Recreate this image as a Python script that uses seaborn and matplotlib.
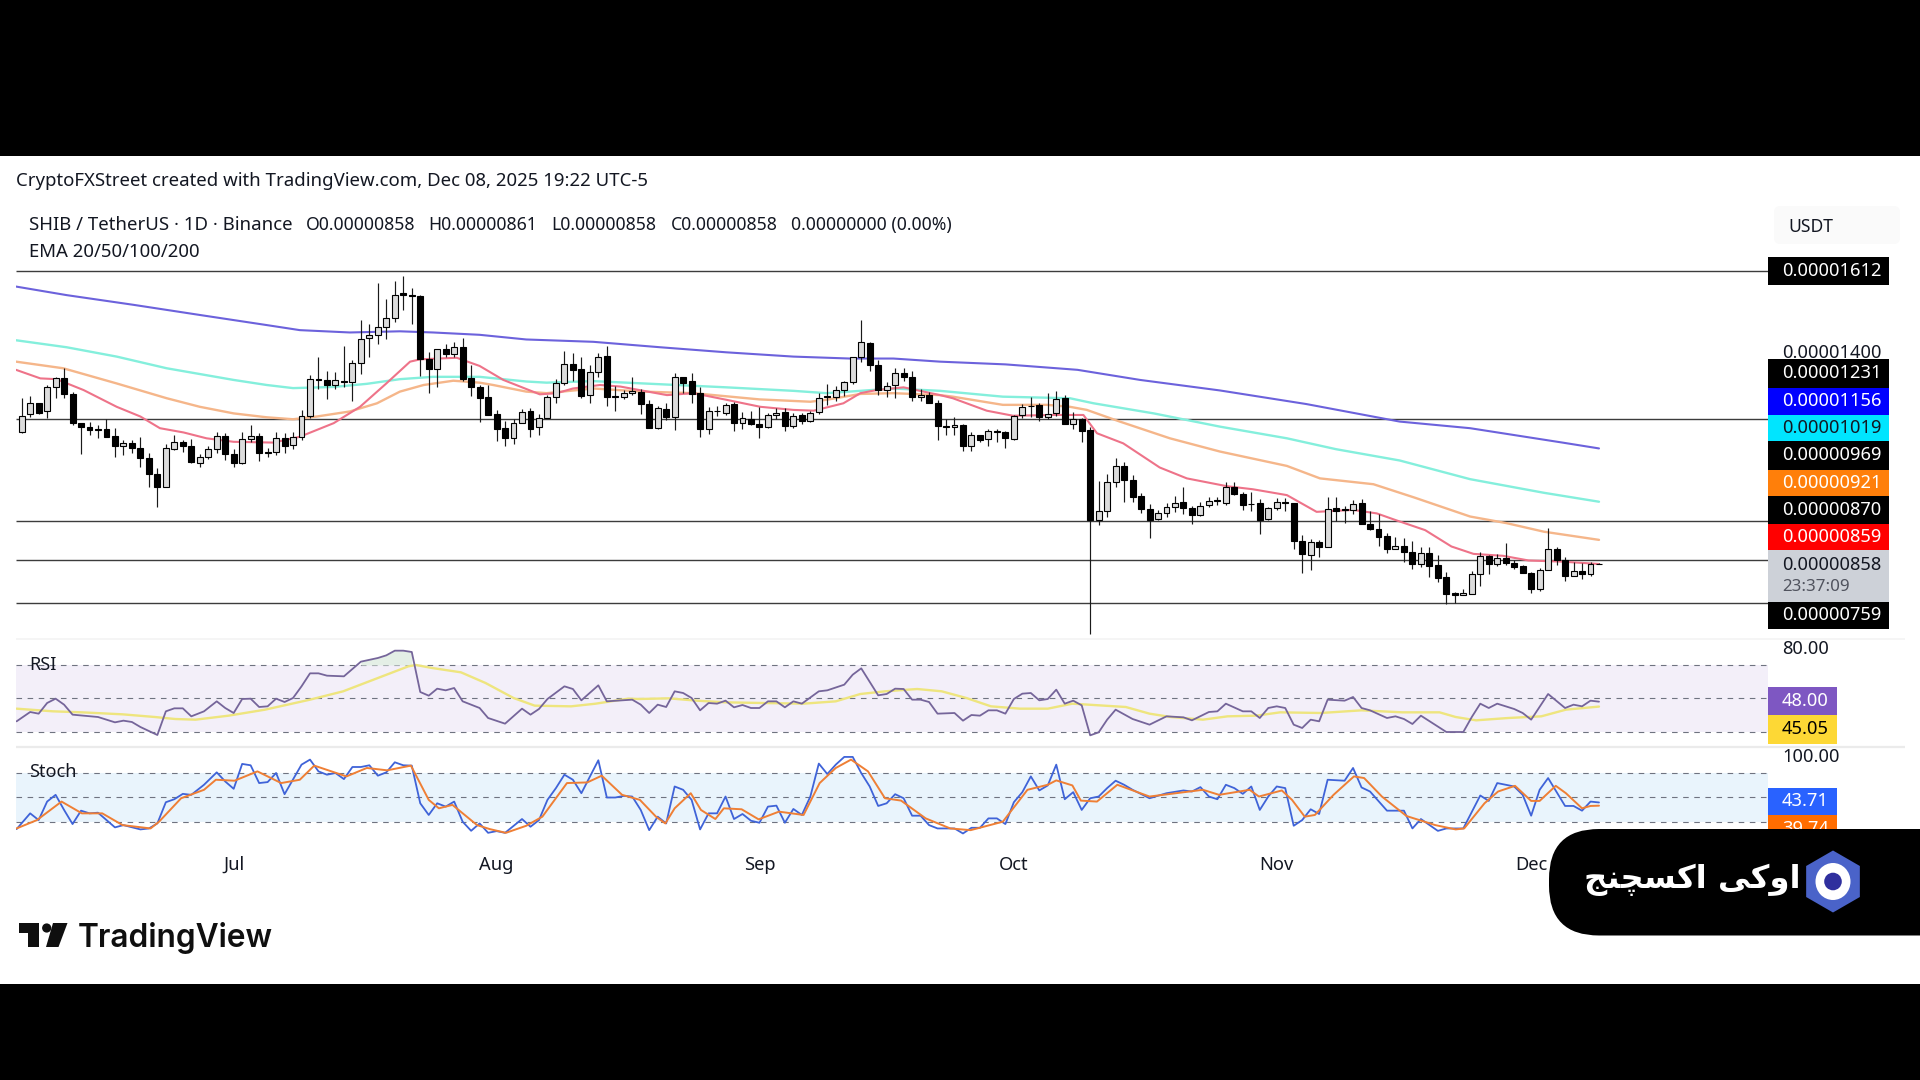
import matplotlib
matplotlib.use("Agg")
import matplotlib.pyplot as plt
import numpy as np
import seaborn as sns
from matplotlib.patches import Circle, Ellipse, FancyBboxPatch, Polygon, Rectangle, RegularPolygon

# prices are in units of 1e-8 USDT, x is the bar number counted from Jun 6
open_vals = [
    1199, 1244, 1273, 1251, 1313, 1337, 1296, 1221, 1211, 1206, 1205, 1188, 1161, 1170, 1158, 1131, 1089, 1058, 1155, 1173,
    1161, 1119, 1133, 1155, 1189, 1142, 1119, 1179, 1189, 1147, 1147, 1182, 1164, 1186, 1240, 1334, 1332, 1320, 1330, 1326,
    1375, 1439, 1447, 1469, 1490, 1555, 1551, 1548, 1387, 1361, 1411, 1398, 1417, 1336, 1313, 1288, 1244, 1208, 1182, 1221,
    1252, 1210, 1233, 1287, 1325, 1373, 1359, 1293, 1353, 1393, 1291, 1287, 1298, 1301, 1271, 1209, 1257, 1238, 1340, 1328,
    1298, 1205, 1253, 1248, 1269, 1221, 1231, 1219, 1210, 1242, 1249, 1213, 1241, 1227, 1249, 1291, 1289, 1307, 1326, 1392,
    1428, 1370, 1306, 1318, 1350, 1340, 1287, 1293, 1274, 1214, 1210, 1216, 1163, 1190, 1180, 1202, 1197, 1180, 1241, 1266,
    1268, 1238, 1246, 1285, 1218, 1232, 1203, 973, 994, 1070, 1111, 1076, 1034, 1001, 974, 989, 1006, 1018, 1004, 984,
    1010, 1023, 1017, 1056, 1040, 1014, 1015, 974, 1003, 1017, 1017, 919, 882, 915, 902, 1003, 1000, 999, 1015, 963,
    948, 931, 898, 905, 889, 858, 886, 856, 825, 784, 779, 783, 832, 880, 858, 875, 862, 854, 837, 796,
    844, 897, 868, 829, 841, 832, 858,
]
high_vals = [
    1285, 1291, 1273, 1319, 1340, 1362, 1302, 1221, 1223, 1216, 1231, 1208, 1178, 1178, 1186, 1145, 1105, 1167, 1191, 1178,
    1180, 1142, 1161, 1199, 1195, 1154, 1199, 1216, 1195, 1158, 1197, 1195, 1197, 1255, 1345, 1390, 1355, 1352, 1418, 1383,
    1486, 1475, 1580, 1539, 1585, 1599, 1568, 1550, 1405, 1411, 1424, 1430, 1439, 1370, 1319, 1319, 1255, 1227, 1231, 1257,
    1259, 1245, 1293, 1334, 1407, 1400, 1392, 1370, 1402, 1419, 1316, 1306, 1340, 1308, 1281, 1266, 1274, 1351, 1340, 1351,
    1315, 1263, 1265, 1274, 1276, 1249, 1253, 1263, 1246, 1259, 1259, 1248, 1248, 1253, 1298, 1321, 1317, 1330, 1392, 1486,
    1430, 1382, 1326, 1362, 1362, 1356, 1308, 1302, 1281, 1231, 1238, 1218, 1199, 1190, 1205, 1205, 1202, 1242, 1270, 1287,
    1274, 1299, 1304, 1293, 1249, 1235, 1212, 1073, 1089, 1131, 1122, 1088, 1041, 1013, 998, 1017, 1034, 1056, 1008, 1019,
    1032, 1032, 1071, 1071, 1045, 1045, 1025, 1006, 1028, 1028, 1017, 934, 922, 921, 1032, 1030, 1008, 1023, 1027, 996,
    988, 938, 928, 925, 919, 902, 902, 882, 838, 788, 796, 842, 891, 882, 885, 914, 868, 857, 839, 848,
    952, 902, 878, 864, 862, 863, 861,
]
low_vals = [
    1196, 1238, 1244, 1233, 1285, 1286, 1216, 1141, 1191, 1182, 1185, 1135, 1139, 1143, 1107, 1058, 1006, 1058, 1152, 1148,
    1118, 1107, 1129, 1145, 1126, 1109, 1116, 1173, 1124, 1135, 1139, 1145, 1155, 1178, 1233, 1308, 1283, 1310, 1313, 1277,
    1346, 1390, 1424, 1436, 1482, 1512, 1476, 1343, 1299, 1313, 1392, 1392, 1328, 1292, 1225, 1242, 1176, 1163, 1167, 1221,
    1186, 1190, 1233, 1272, 1319, 1328, 1285, 1272, 1340, 1265, 1253, 1282, 1293, 1245, 1209, 1206, 1229, 1203, 1298, 1272,
    1185, 1192, 1240, 1242, 1201, 1206, 1216, 1182, 1208, 1232, 1201, 1209, 1218, 1225, 1244, 1268, 1279, 1292, 1322, 1377,
    1355, 1293, 1289, 1286, 1330, 1278, 1278, 1272, 1178, 1191, 1191, 1149, 1150, 1173, 1161, 1173, 1156, 1178, 1233, 1238,
    1227, 1231, 1240, 1218, 1206, 1173, 678, 959, 981, 1056, 1019, 1019, 989, 927, 972, 981, 993, 987, 962, 982,
    1006, 1011, 1011, 1036, 998, 996, 936, 972, 998, 996, 897, 837, 844, 878, 902, 969, 964, 988, 962, 946,
    906, 888, 898, 865, 846, 850, 825, 814, 756, 758, 779, 781, 803, 832, 855, 856, 846, 835, 785, 790,
    844, 856, 815, 829, 821, 829, 858,
]
close_vals = [
    1240, 1273, 1248, 1313, 1336, 1295, 1221, 1210, 1204, 1204, 1186, 1161, 1169, 1158, 1131, 1089, 1058, 1158, 1172, 1163,
    1122, 1133, 1155, 1188, 1141, 1119, 1179, 1188, 1143, 1145, 1182, 1163, 1185, 1240, 1334, 1332, 1320, 1331, 1326, 1375,
    1436, 1447, 1469, 1490, 1551, 1550, 1549, 1385, 1361, 1411, 1398, 1417, 1335, 1314, 1286, 1242, 1207, 1182, 1221, 1250,
    1207, 1235, 1287, 1325, 1372, 1358, 1292, 1353, 1392, 1287, 1289, 1299, 1304, 1270, 1209, 1259, 1236, 1340, 1325, 1295,
    1205, 1253, 1251, 1268, 1221, 1234, 1218, 1210, 1243, 1248, 1213, 1240, 1227, 1248, 1286, 1289, 1306, 1326, 1392, 1430,
    1370, 1306, 1317, 1350, 1340, 1287, 1293, 1272, 1213, 1212, 1216, 1162, 1191, 1178, 1202, 1197, 1182, 1240, 1262, 1264,
    1236, 1245, 1284, 1218, 1232, 1202, 972, 995, 1070, 1111, 1075, 1030, 1000, 973, 990, 1006, 1017, 1003, 984, 1008,
    1022, 1021, 1056, 1038, 1011, 1012, 973, 1003, 1019, 1016, 917, 884, 915, 902, 1000, 994, 998, 1014, 962, 949,
    929, 898, 904, 891, 858, 886, 855, 824, 783, 779, 784, 832, 880, 860, 874, 862, 852, 836, 796, 844,
    897, 868, 829, 840, 832, 858, 858,
]

level_vals = [1612, 1231, 969, 870, 759]

ema200_x = [-0.67, 5.3, 13.2, 21, 28.9, 32.8, 38.7, 44.6, 48.5, 54, 59.5, 67.4, 75.3, 83.1, 91, 97.7, 102.8, 108.3, 116, 124.5, 131.9, 141.3, 151.5, 162.5, 170.8, 181.7, 186]
ema200_y = [1572, 1550, 1525, 1499, 1473, 1460, 1454, 1457, 1454, 1448, 1436, 1430, 1416, 1403, 1392, 1387, 1387, 1379, 1372, 1358, 1332, 1305, 1270, 1225, 1208, 1171, 1156]
ema100_x = [-0.67, 5.3, 11.2, 17.1, 25, 28.9, 32, 36.8, 40.7, 44.6, 48.5, 54, 59.5, 61.9, 67.4, 73.3, 83.1, 91, 94.9, 98.9, 102.8, 108.3, 115.7, 123.6, 126.4, 133.5, 141.3, 149.2, 155, 162.5, 170.8, 179.5, 186]
ema100_y = [1434, 1416, 1392, 1362, 1332, 1319, 1311, 1314, 1322, 1334, 1340, 1340, 1328, 1325, 1329, 1323, 1313, 1304, 1298, 1304, 1310, 1304, 1289, 1285, 1272, 1246, 1212, 1182, 1154, 1125, 1077, 1042, 1019]
ema50_x = [-0.67, 4.9, 11.2, 17.1, 21, 25, 28.9, 32, 34.8, 38.7, 41.9, 44.6, 47.4, 50.9, 54, 55.6, 59.5, 61.9, 67.4, 73.3, 79.2, 87, 93, 94.9, 98.9, 102.8, 108.3, 109.8, 115.7, 120.9, 123.6, 125.6, 129.5, 135.4, 141.3, 149.2, 153.1, 159.4, 164.2, 170.8, 175.1, 179.5, 186]
ema50_y = [1379, 1362, 1323, 1285, 1263, 1246, 1236, 1231, 1238, 1251, 1272, 1302, 1319, 1330, 1325, 1319, 1302, 1298, 1310, 1302, 1298, 1282, 1276, 1281, 1296, 1298, 1293, 1289, 1268, 1268, 1263, 1255, 1225, 1182, 1148, 1111, 1079, 1064, 1030, 981, 964, 942, 921]
ema20_x = [-0.67, 2.2, 4.1, 7.3, 11.2, 14, 16.3, 19.1, 21.8, 25, 29.7, 32.8, 36.8, 39.9, 43, 45.8, 47, 51.3, 54, 56.8, 61.1, 63.1, 65, 68.2, 70.6, 76.1, 79.2, 83.1, 87.1, 91, 93.4, 96.9, 98.9, 100.8, 104, 108.3, 109.8, 113.8, 116.9, 121.6, 125.2, 126.8, 129.9, 134.2, 137.4, 142.1, 145.2, 149.2, 152.7, 157, 159.8, 162, 165.5, 168.6, 171.2, 174.7, 177.7, 181.7, 186]
ema20_y = [1358, 1336, 1334, 1306, 1263, 1238, 1208, 1197, 1182, 1173, 1171, 1186, 1221, 1263, 1323, 1379, 1385, 1389, 1368, 1332, 1295, 1298, 1310, 1319, 1315, 1293, 1298, 1281, 1263, 1255, 1253, 1272, 1298, 1306, 1313, 1293, 1285, 1253, 1240, 1242, 1242, 1195, 1169, 1107, 1079, 1059, 1051, 1036, 993, 998, 989, 972, 946, 904, 885, 880, 868, 865, 859]

rsi_x = [-0.6, 1, 2, 3, 4, 5, 6, 9, 11, 12, 13, 14, 16, 17, 18, 19, 20, 21.5, 23, 24, 25, 26, 27, 28, 29, 30, 31, 32, 33, 34, 35, 36, 38, 40, 42, 43, 44, 45, 46, 47, 48, 49, 50, 51, 52, 54, 55, 57, 59, 60, 61, 62, 64, 65, 66, 68, 69, 72, 73,
         74, 75, 76, 77, 78, 79, 80, 81, 82, 83, 84, 85, 86, 87, 88, 89, 90, 91, 92, 94, 95, 97, 98, 99, 101, 102, 103, 104, 105, 106, 107, 108, 110, 111, 112, 113, 114, 115, 116, 117, 118, 119, 120, 121, 122, 123, 124, 125, 126, 127, 128, 129, 131, 133, 135, 137, 138, 140, 141, 142, 144, 145, 146, 147, 148,
         149, 150, 151, 152, 153, 154, 156, 157, 158, 159, 161, 162, 163, 164, 165, 168, 170, 171, 172, 173, 174, 176, 177, 178, 180, 182, 183, 184, 185, 186]
rsi_y = [36.2, 41.8, 40.8, 47.2, 49.8, 46.2, 40.2, 38.8, 35.6, 36.6, 35.8, 32.8, 28, 42.2, 44, 44, 39.2, 42.2, 48.2, 44.2, 41.2, 49.6, 49.8, 44.8, 45.2, 49.8, 47.8, 50.2, 57.2, 65, 65, 63.6, 63.2, 72, 74.2, 75.8, 78.6, 78.6, 77.8, 53.8, 51.6, 55.8, 54.8, 56.2, 48.2, 44.2, 38.2, 34.8, 43.8, 40.2, 43.6, 49.6, 57.2, 55.6, 48.8, 57.8, 48.2, 49.2, 46.2,
         41.2, 46.2, 44.8, 54.2, 53.2, 50.2, 42.8, 47.2, 46.8, 48.6, 44.6, 46, 44.2, 44.2, 48.2, 48.2, 44.6, 48.2, 46.8, 54.2, 54.8, 58.2, 64.2, 68, 51.8, 52.6, 55.8, 55.6, 49.2, 49.2, 47.8, 40.8, 41.2, 36.6, 40, 39.6, 42.8, 42.8, 40.8, 49.6, 52.8, 53.2, 48.8, 49.6, 55.2, 46.8, 48.6, 45.8, 27.8, 29.6, 37.2, 43.2, 37.6, 34.2, 39.2, 38.6, 36.8, 41.8, 42.2, 46.8, 42.2, 42.2, 38.2, 44.2, 45.2,
         44.2, 34.2, 32.2, 37.2, 36.2, 49.2, 48.6, 50.8, 44.2, 42.8, 38.2, 39.2, 37.6, 34.6, 39.6, 29.8, 29.8, 38.8, 46.8, 44.2, 46.8, 43.6, 41.2, 37.2, 52.6, 44.2, 46.2, 45.2, 48.6, 48]
rsi_ma_x = [-0.6, 3.7, 7.1, 11.9, 15.7, 18.1, 20.5, 24.4, 28.7, 34, 37.9, 41.7, 45.6, 46.5, 48.4, 51.8, 54.7, 58, 60.5, 64.8, 67.7, 71.5, 72.9,
            76.3, 79.6, 83, 87.3, 92.2, 96, 98.9, 101.8, 105.6, 108.5, 111.4, 114.3, 117.7, 121, 123.9, 130.2, 133, 135.5, 139.3, 142.2, 145.6, 148.4,
            153.2, 158, 162.8, 167.2, 169.1, 171.5, 175.3, 179.2, 182.1, 186]
rsi_ma_y = [43.8, 42.2, 41.6, 40.4, 38.8, 37.6, 37.2, 39.6, 43.2, 49.2, 54.2, 61.6, 69.2, 70, 68.2, 65.6, 59.2, 50.2, 45.6, 45.2, 46.8, 49.8, 49.6,
            50, 48.6, 47.6, 47.2, 46.8, 48.2, 52.6, 54.2, 55.6, 54.2, 50.2, 45.2, 43.8, 43.8, 46.8, 44.8, 40.8, 38.8, 37.2, 39.2, 39.6, 41.6,
            41.2, 42.8, 41.6, 41.6, 38.8, 36.8, 38.2, 39.2, 43.2, 45.05]

stoch_k_x = [-0.6, 1, 2, 3, 4, 5, 6, 7, 8, 9, 11, 12, 14, 15, 16, 17, 18, 19, 20, 21.5, 23, 24, 25, 26, 27, 28, 29, 30, 31, 33, 34, 35, 36, 37, 38, 39, 40, 41, 42, 43, 44, 45, 46, 47, 48, 49, 50, 51, 52, 53, 54, 55, 56, 57, 59, 60, 61, 62, 63, 64, 65, 66, 68, 69, 70, 71, 72, 73,
             74, 75, 76, 77, 78, 79, 80, 81, 82, 83, 84, 85, 86, 87, 88, 89, 90, 91, 92, 93, 94, 95, 96, 97, 98, 99, 100, 101, 102, 103, 104, 105, 106, 107, 108, 109, 110, 111, 112, 113, 114, 115, 116, 117, 118, 119, 120, 121, 122, 123, 124, 125, 126, 127, 128, 129, 130, 131, 133, 135, 137, 138, 139, 140, 141, 142, 143, 144, 145, 146, 147, 148,
             149, 150, 151, 152, 153, 154, 156, 157, 158, 159, 161, 163, 164, 165, 167, 168, 170, 172, 173, 174, 176, 177, 178, 179, 180, 182, 183, 184, 185, 186]
stoch_k_y = [10.9, 30.3, 22, 44.8, 53.1, 34.5, 17.1, 33.6, 30.3, 31.1, 13, 15.8, 10.5, 11.7, 17.9, 44, 47.7, 54.3, 53.1, 65.5, 80.8, 69.6, 60.5, 91.2, 89.5, 67.6, 68.8, 80, 53.9, 90.3, 96.5, 82, 77.9, 80, 72.5, 87.4, 87.4, 89.5, 76.7, 80.8, 93.2, 89.5, 89.1, 42.7, 28.3, 42.7, 38.6, 44.8, 20, 8.8, 17.9, 6.3, 8.4, 6.3, 23.3, 13.8, 22, 46.9, 61.4, 77.9, 71.7, 55.1, 95.7, 49.8, 49.8, 51.8, 51, 34.5,
             9.6, 26.2, 17.9, 63.4, 59.3, 46.9, 10.5, 30.3, 30.3, 51, 23.3, 29.5, 21.2, 18.7, 38.6, 39.8, 18.7, 35.7, 28.3, 51, 91.6, 78.7, 90.3, 99.8, 99.8, 80, 63.4, 39.4, 42.7, 53.9, 48.9, 27.4, 27.4, 15.8, 11.7, 11.7, 11.7, 5.5, 12.5, 12.5, 24.1, 24.1, 17.1, 44, 56.4, 75.8, 58.5, 64.7, 90.3, 47.7, 56.4, 34.5, 48.9, 51, 61.4, 70.5, 65.5, 59.3, 48.9, 55.1, 58.5, 57.2, 62.6, 51, 47.7, 65.5, 61.4, 54.3, 63.4, 34.5, 51, 63.4,
             61.4, 15, 22, 35.3, 29.5, 71.7, 70.5, 86.2, 62.2, 57.2, 33.6, 33.6, 11.7, 23.3, 8.7, 11.7, 11.7, 52.3, 45.6, 67.6, 63.4, 53.1, 27.4, 59.3, 73.8, 39.4, 39.4, 33.6, 44.8, 43.71]
stoch_d_x = [-0.6, 1.8, 4.7, 7.1, 9.5, 11.9, 15.2, 16.2, 18.8, 21.5, 22.9, 25.1, 27.8, 30.6, 32.8, 34.5, 38.3, 40.7, 43.1, 45.9, 48, 49.2, 50.8, 53.7, 55.2, 57.1, 59.5, 61.4, 64.3, 66.7, 68.4, 70.8, 72.9,
             74.8, 75.9, 77, 78.9, 80.1, 81.8, 82.8, 84.9, 86.9, 89.3, 92.2, 94.1, 96, 97.8, 99.8, 101.8, 103.7, 106.6, 109.5, 111.9, 115.7, 118.6, 121, 122, 123.9, 124.9, 126.8, 129.2, 133, 139.3, 141.2, 144.8, 145.9, 148.6,
             149.8, 151.3, 152.5, 154.7, 157.1, 158.3, 160.4, 163.3, 166.7, 169.1, 170.1, 172.5, 174.1, 176.1, 178, 179, 180.9, 182.1, 184, 185, 186]
stoch_d_y = [11.7, 22, 44.8, 30.3, 30.3, 15.8, 11.7, 20, 48.9, 59.3, 71.7, 70.5, 82, 67.6, 71.7, 89.1, 75.8, 86.2, 83.3, 89.1, 46.9, 36.5, 40.7, 15.8, 10.9, 6.3, 15, 26.2, 67.6, 68.4, 76.7, 53.1, 46.9,
             26.2, 17.9, 36.5, 55.1, 34.5, 23.3, 36.5, 35.3, 22.9, 32.4, 28.3, 67.6, 86.2, 96.5, 82, 48.9, 46, 24.1, 11.7, 9.6, 20, 59.3, 65.5, 70.9, 64.7, 46, 44.8, 65.5, 51, 59.3, 53.1, 59.3, 51, 58.5,
             46.9, 26.2, 28.3, 53.1, 75.8, 73.8, 51, 27, 15.8, 10.5, 11.7, 42.7, 57.2, 64.2, 45.6, 45.6, 64.2, 55.1, 36.5, 39.4, 39.74]

month_ticks = [25, 56, 87, 117, 148, 178]
month_labels = ["Jul", "Aug", "Sep", "Oct", "Nov", "Dec"]
price_tags = ["0.00001612", "0.00001231", "0.00001156", "0.00001019", "0.00000969", "0.00000921", "0.00000870", "0.00000859", "0.00000759"]
rsi_tags = ["48.00", "45.05"]
stoch_tags = ["43.71", "39.74"]
# Arabic-script text in visual order with contextual forms, matplotlib does no shaping
brand_text = "\ufe9e\ufee8\ufb7d\ufeb4\ufb90\ufe8d \ufbfd\ufb90\ufeed\ufe8d"

W, H = 1920, 1080
LEFT, RIGHT = 16, 1768
TEXT_FONT = "Noto Sans"
INK = "#131722"


def pane(fig, top, bottom, xlim, ylim):
    ax = fig.add_axes([LEFT / W, 1 - bottom / H, (RIGHT - LEFT) / W, (bottom - top) / H])
    ax.set_xlim(*xlim)
    ax.set_ylim(*ylim)
    ax.patch.set_alpha(0)
    sns.despine(ax=ax, left=True, bottom=True)
    ax.set_yticks([])
    ax.set_xticks([])
    return ax


def draw_line(ax, xs, ys, color, lw, zorder=2):
    sns.lineplot(x=xs, y=ys, color=color, linewidth=lw, estimator=None, errorbar=None, sort=False, ax=ax, zorder=zorder)
    ax.set_xlabel("")
    ax.set_ylabel("")


def draw_candles(ax):
    x = np.arange(len(close_vals))
    o, h, l, c = map(np.array, (open_vals, high_vals, low_vals, close_vals))
    up = c >= o
    ax.vlines(x, l, h, color="#1a1a1a", linewidth=0.85, zorder=4)
    colors = np.where(up, "#dcdcdc", "#000000")
    body_h = np.maximum(np.abs(c - o), 1.5)
    ax.bar(x, body_h, bottom=np.minimum(o, c), width=0.7, color=colors, edgecolor="#000000", linewidth=0.8, zorder=5)


def tag(ov, y0, y1, face, txt, color="white", x1=1889):
    ov.add_patch(Rectangle((1768, y0), x1 - 1768, y1 - y0, facecolor=face, edgecolor="none", zorder=3))
    ov.text(1782, (y0 + y1) / 2, txt, color=color, fontsize=13.2, family=TEXT_FONT, va="center", ha="left", zorder=4)


sns.set_theme(style="white")
plt.rcParams["font.family"] = [TEXT_FONT, "DejaVu Sans"]

fig = plt.figure(figsize=(W / 100, H / 100), dpi=100, facecolor="black")
fig.add_artist(Rectangle((0, 1 - 983.5 / H), 1, (983.5 - 155.5) / H, transform=fig.transFigure, facecolor="white", edgecolor="none", zorder=-5))

xlim = (-0.67, 205.93)
ax_main = pane(fig, 205, 638, xlim, (668.8, 1781.6))
ax_rsi = pane(fig, 640, 746, xlim, (21.4, 85))
ax_stoch = pane(fig, 748, 842, xlim, (-5, 110.8))

ax_main.hlines(level_vals, *xlim, color="#3c3c3c", linewidth=1.0, zorder=1)
draw_line(ax_main, ema200_x, ema200_y, "#6c62dc", 1.5)
draw_line(ax_main, ema100_x, ema100_y, "#84efdc", 1.7)
draw_line(ax_main, ema50_x, ema50_y, "#f5b68a", 1.7)
draw_line(ax_main, ema20_x, ema20_y, "#ee7389", 1.5)
draw_candles(ax_main)

ax_rsi.axhspan(30, 70, color="#f3eff9", zorder=0, linewidth=0)
ax_rsi.hlines([70, 50, 30], *xlim, color="#6f7380", linewidth=0.8, linestyles=(0, (5, 5)), zorder=1)
ax_rsi.fill_between(rsi_x, 70, rsi_y, where=np.array(rsi_y) > 70, color="#e4efe6", linewidth=0, zorder=1)
draw_line(ax_rsi, rsi_ma_x, rsi_ma_y, "#eee57e", 1.7)
draw_line(ax_rsi, rsi_x, rsi_y, "#75659a", 1.3, zorder=3)

ax_stoch.axhspan(20, 80, color="#e9f4fc", zorder=0, linewidth=0)
ax_stoch.hlines([80, 50, 20], *xlim, color="#6f7380", linewidth=0.8, linestyles=(0, (5, 5)), zorder=1)
draw_line(ax_stoch, stoch_k_x, stoch_k_y, "#3f63d8", 1.3)
draw_line(ax_stoch, stoch_d_x, stoch_d_y, "#ef7f35", 1.4, zorder=3)
ax_stoch.set_xticks(month_ticks, month_labels, fontsize=13.2, color=INK, family=TEXT_FONT)
ax_stoch.tick_params(axis="x", length=0, pad=10)

# everything outside the data panes is placed in screen pixels
ov = fig.add_axes([0, 0, 1, 1], zorder=10)
ov.set_xlim(0, W)
ov.set_ylim(H, 0)
ov.axis("off")
ov.patch.set_alpha(0)

ov.text(16, 180.5, "CryptoFXStreet created with TradingView.com, Dec 08, 2025 19:22 UTC-5", fontsize=13.4, color=INK, va="center", family=TEXT_FONT)
ov.text(29, 225, "SHIB / TetherUS \u00b7 1D \u00b7 Binance", fontsize=13.4, color=INK, va="center", family=TEXT_FONT)
for x_pos, seg in zip(
    [306, 428.6, 551.7, 671, 791],
    ["O0.00000858", "H0.00000861", "L0.00000858", "C0.00000858", "0.00000000 (0.00%)"],
):
    ov.text(x_pos, 225, seg, fontsize=12.7, color=INK, va="center", family=TEXT_FONT)
ov.text(29, 252, "EMA 20/50/100/200", fontsize=13.4, color=INK, va="center", family=TEXT_FONT)
ov.text(29, 665, "RSI", fontsize=13, color=INK, va="center", family=TEXT_FONT, zorder=5)
ov.text(29, 772, "Stoch", fontsize=13, color=INK, va="center", family=TEXT_FONT, zorder=5)

ov.add_patch(FancyBboxPatch((1774, 206), 126, 38, boxstyle="round,pad=0,rounding_size=6", facecolor="#fafafa", edgecolor="none", zorder=1))
ov.text(1788, 226.5, "USDT", fontsize=12.6, color=INK, va="center", family=TEXT_FONT, zorder=2)
ov.hlines(746.7, 16, 1905, color="#ebebeb", linewidth=1.6, zorder=1)
ov.hlines(639, 16, 1905, color="#f4f4f4", linewidth=1.2, zorder=1)

ov.text(1782, 352.7, "0.00001400", fontsize=13.2, color=INK, va="center", family=TEXT_FONT, zorder=2)
tag(ov, 257, 285, "#000000", price_tags[0])
tag(ov, 359, 388, "#000000", price_tags[1])
tag(ov, 388, 415, "#0000ff", price_tags[2])
tag(ov, 415, 441, "#00e5ff", price_tags[3], color=INK)
tag(ov, 441, 470, "#000000", price_tags[4])
tag(ov, 470, 496, "#ff7f0a", price_tags[5])
tag(ov, 496, 524, "#000000", price_tags[6])
tag(ov, 524, 550, "#ff0000", price_tags[7])
ov.add_patch(Rectangle((1768, 550), 121, 52, facecolor="#cdd1d8", edgecolor="none", zorder=3))
ov.text(1782, 565, "0.00000858", fontsize=13.2, color=INK, va="center", family=TEXT_FONT, zorder=4)
ov.text(1782, 587, "23:37:09", fontsize=12.2, color="#50535e", va="center", family=TEXT_FONT, zorder=4)
tag(ov, 602, 629, "#000000", price_tags[8])

ov.text(1782, 648.5, "80.00", fontsize=13.2, color=INK, va="center", family=TEXT_FONT, zorder=2)
tag(ov, 687, 715, "#7e57c2", rsi_tags[0], x1=1837)
tag(ov, 715, 744, "#fdd835", rsi_tags[1], color="#000000", x1=1837)
ov.text(1782, 756.7, "100.00", fontsize=13.2, color=INK, va="center", family=TEXT_FONT, zorder=2)
tag(ov, 788, 815, "#2962ff", stoch_tags[0], x1=1837)
tag(ov, 815, 843, "#ff6d00", stoch_tags[1], x1=1837)

# TradingView mark and wordmark
ov.add_patch(Polygon([(19, 923), (39, 923), (39, 947), (28, 947), (28, 933), (19, 933)], facecolor="#0f0f0f", edgecolor="none"))
ov.add_patch(Circle((46.7, 928), 4.6, facecolor="#0f0f0f", edgecolor="none"))
ov.add_patch(Polygon([(53, 923), (67.5, 923), (58.5, 947), (46, 947)], facecolor="#0f0f0f", edgecolor="none"))
ov.text(78, 938, "TradingView", fontsize=22.8, weight="semibold", color="#0f0f0f", va="center", family="Inter")

# exchange badge sits over the last axis labels
ov.add_patch(FancyBboxPatch((1549, 829), 520, 106.5, boxstyle="round,pad=0,rounding_size=50", facecolor="black", edgecolor="none", zorder=8))
ov.add_patch(RegularPolygon((1833, 881.5), 6, radius=31, facecolor="#4a63c9", edgecolor="none", zorder=9))
ov.add_patch(Ellipse((1833, 881.5), 35, 37, facecolor="white", edgecolor="none", zorder=10))
ov.add_patch(Circle((1833, 881.5), 8.8, facecolor="#2f2f9e", edgecolor="none", zorder=11))
ov.text(1692, 880, brand_text, fontsize=23.2, weight="bold", color="white", va="center", ha="center", family="DejaVu Sans", zorder=10)

fig.savefig("out.png", dpi=100, facecolor="black")
